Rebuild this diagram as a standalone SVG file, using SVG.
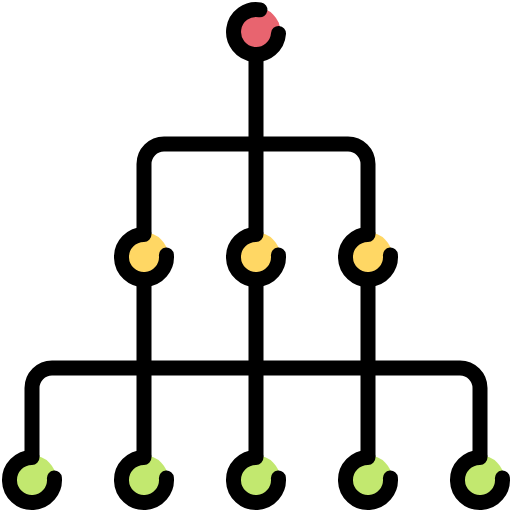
<svg xmlns="http://www.w3.org/2000/svg" width="512" height="512" viewBox="0 0 512 512">
<style>
.s{fill:none;stroke:#000;stroke-width:15;stroke-linecap:round;stroke-linejoin:round}
.r{fill:#e8646f}.y{fill:#ffd764}.g{fill:#c2e86f}
</style>
<rect width="512" height="512" fill="#fff"/>
<g id="connectors">
<path class="s" d="M256 54.5V234.5M256 279.5V457.5M144 279.5V457.5M368 279.5V457.5"/>
<path class="s" d="M144 234.5V164A20 20 0 0 1 164 144H348A20 20 0 0 1 368 164V234.5"/>
<path class="s" d="M32 457.5V388A20 20 0 0 1 52 368H460A20 20 0 0 1 480 388V457.5"/>
</g>
<g id="root"><circle class="r" cx="256" cy="32" r="24.5"/><path class="s" d="M259.9 9.8A22.5 22.5 0 1 0 278.5 33.5"/></g>
<g id="mid-left"><circle class="y" cx="144" cy="257" r="24.5"/><path class="s" d="M144 234.5A22.5 22.5 0 1 0 166.4 255"/></g>
<g id="mid-center"><circle class="y" cx="256" cy="257" r="24.5"/><path class="s" d="M256 234.5A22.5 22.5 0 1 0 278.4 255"/></g>
<g id="mid-right"><circle class="y" cx="368" cy="257" r="24.5"/><path class="s" d="M368 234.5A22.5 22.5 0 1 0 390.4 255"/></g>
<g id="leaf1"><circle class="g" cx="32" cy="480" r="24.5"/><path class="s" d="M32 457.5A22.5 22.5 0 1 0 54.4 478"/></g>
<g id="leaf2"><circle class="g" cx="144" cy="480" r="24.5"/><path class="s" d="M144 457.5A22.5 22.5 0 1 0 166.4 478"/></g>
<g id="leaf3"><circle class="g" cx="256" cy="480" r="24.5"/><path class="s" d="M256 457.5A22.5 22.5 0 1 0 278.4 478"/></g>
<g id="leaf4"><circle class="g" cx="368" cy="480" r="24.5"/><path class="s" d="M368 457.5A22.5 22.5 0 1 0 390.4 478"/></g>
<g id="leaf5"><circle class="g" cx="480" cy="480" r="24.5"/><path class="s" d="M480 457.5A22.5 22.5 0 1 0 502.4 478"/></g>
</svg>
